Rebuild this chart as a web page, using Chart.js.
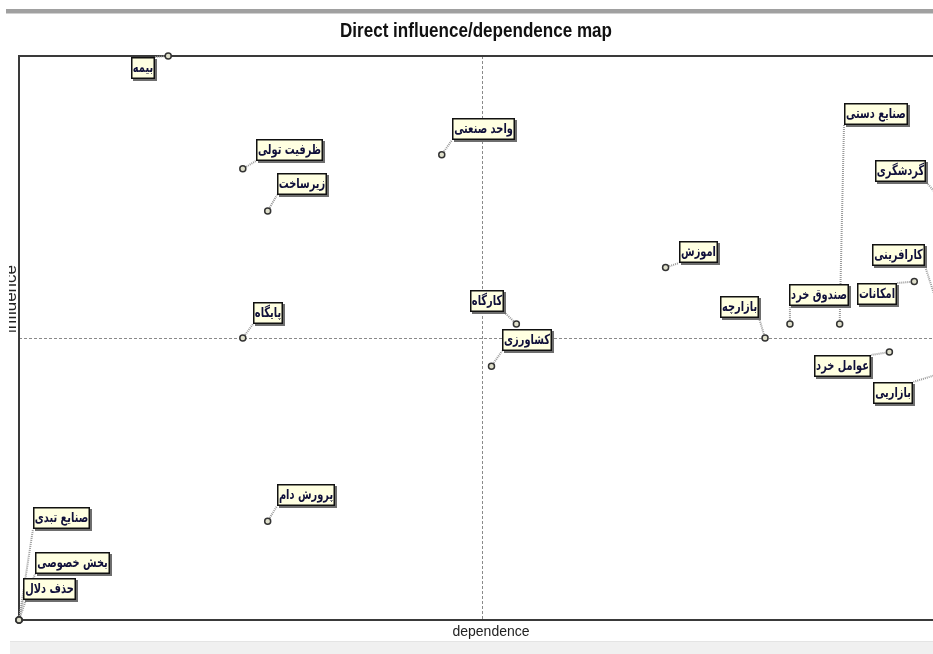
<!DOCTYPE html>
<html>
<head>
<meta charset="utf-8">
<title>Direct influence/dependence map</title>
<script src="https://cdn.jsdelivr.net/npm/chart.js@4.4.0/dist/chart.umd.min.js"></script>
<style>
  html, body { margin: 0; padding: 0; background: #fff; overflow: hidden; }
  canvas { display: block; }
</style>
</head>
<body>
<canvas id="mapChart" width="1000" height="654"></canvas>
<script>
const variables = [
    'بیمه', 'ظرفیت تولی', 'زیرساخت', 'واحد صنعتی', 'کارگاه',
    'کشاورزی', 'اموزش', 'بازارچه', 'صندوق خرد', 'صنایع دستی',
    'امکانات', 'کارافرینی', 'گردشگری', 'عوامل خرد', 'بازاریی',
    'پایگاه', 'پرورش دام', 'صنایع تبدی', 'بخش خصوصی', 'حذف دلال'
];
const dependence = [6, 9, 10, 17, 20, 19, 26, 30, 31, 33, 36, 37, 37, 35, 38, 9, 10, 0, 0, 0];
const influence = [40, 32, 29, 33, 21, 18, 25, 20, 21, 21, 24, 22, 30, 19, 18, 20, 7, 0, 0, 0];
const meanDependence = 18.6;
const meanInfluence = 20;
const dependenceMax = 38;
const influenceMax = 40;

// where each label box sits relative to its point (px, top-left corner)
const labelOffsets = [
    [-37, 1], [13, -30], [9, -38], [10, -37], [-46, -34],
    [10, -37], [13, -27], [-45, -42], [-1, -40], [4, -221],
    [-57, 1], [-67, -66], [-64, -37], [-75, 3], [-91, 16],
    [10, -36], [9, -37], [14, -113], [16, -68], [4, -42]
];

const labelFont = "bold 12px 'DejaVu Sans', sans-serif";
const labelSquash = 0.82; // the original labels use a narrow face

function labelBox(ctx, i, p) {
    ctx.font = labelFont;
    const w = Math.round(ctx.measureText(variables[i]).width * labelSquash) + 4;
    const [dx, dy] = labelOffsets[i];
    return { x: Math.round(p.x + dx), y: Math.round(p.y + dy), w: w, h: 22 };
}

const mapDecor = {
    id: 'mapDecor',
    beforeDraw(chart) {
        const { ctx, chartArea: a, scales: { x, y } } = chart;
        ctx.save();
        // top rule
        ctx.fillStyle = '#a0a0a0';
        ctx.fillRect(6, 9, chart.width, 4);
        ctx.fillStyle = '#d0d0d0';
        ctx.fillRect(6, 13, chart.width, 1);

        // title, squeezed to the narrow width of the original
        const title = 'Direct influence/dependence map';
        ctx.fillStyle = '#111';
        ctx.font = "bold 20px 'Liberation Sans', sans-serif";
        ctx.textAlign = 'center';
        ctx.textBaseline = 'middle';
        const tw = ctx.measureText(title).width;
        ctx.save();
        ctx.translate(476, 31);
        ctx.scale(272 / tw, 1.05);
        ctx.fillText(title, 0, 0);
        ctx.restore();

        // bottom band
        ctx.fillStyle = '#f0f0f0';
        ctx.fillRect(10, 641, chart.width, 13);
        ctx.fillStyle = '#e4e4e4';
        ctx.fillRect(10, 641, chart.width, 1);

        // axis titles
        ctx.fillStyle = '#222';
        ctx.font = "14px 'Liberation Sans', sans-serif";
        ctx.fillText('dependence', 491, 632);
        ctx.save();
        ctx.beginPath();
        ctx.rect(9, 0, 10, chart.height);
        ctx.clip();
        ctx.font = "17px 'Liberation Sans', sans-serif";
        ctx.translate(16, 299);
        ctx.rotate(-Math.PI / 2);
        ctx.textBaseline = 'alphabetic';
        ctx.fillText('influence', 0, 0);
        ctx.restore();

        // mean lines
        ctx.strokeStyle = '#8a8a8a';
        ctx.lineWidth = 1;
        ctx.setLineDash([3, 2]);
        const mx = Math.round(x.getPixelForValue(meanDependence)) + 0.5;
        const my = Math.round(y.getPixelForValue(meanInfluence)) + 0.5;
        ctx.beginPath();
        ctx.moveTo(mx, a.top); ctx.lineTo(mx, a.bottom);
        ctx.moveTo(a.left, my); ctx.lineTo(a.right, my);
        ctx.stroke();
        ctx.setLineDash([]);

        // frame
        ctx.strokeStyle = '#3a3a3a';
        ctx.lineWidth = 2;
        ctx.strokeRect(a.left, a.top, a.right - a.left, a.bottom - a.top);
        ctx.restore();
    },
    beforeDatasetsDraw(chart) {
        const ctx = chart.ctx;
        const meta = chart.getDatasetMeta(0);
        ctx.save();
        ctx.strokeStyle = '#9a9a9a';
        ctx.lineWidth = 2;
        ctx.setLineDash([1, 1]);
        variables.forEach((name, i) => {
            const p = meta.data[i];
            const b = labelBox(ctx, i, p);
            const lx = Math.min(Math.max(p.x, b.x), b.x + b.w);
            const ly = Math.min(Math.max(p.y, b.y), b.y + b.h);
            ctx.beginPath();
            ctx.moveTo(p.x, p.y);
            ctx.lineTo(lx, ly);
            ctx.stroke();
        });
        ctx.restore();
    },
    afterDatasetsDraw(chart) {
        const ctx = chart.ctx;
        const meta = chart.getDatasetMeta(0);
        ctx.save();
        variables.forEach((name, i) => {
            const b = labelBox(ctx, i, meta.data[i]);
            ctx.fillStyle = '#6e6e6e';
            ctx.fillRect(b.x + 2, b.y + 2, b.w, b.h);
            ctx.fillStyle = '#ffffe1';
            ctx.fillRect(b.x, b.y, b.w, b.h);
            ctx.strokeStyle = '#111';
            ctx.lineWidth = 1.5;
            ctx.strokeRect(b.x + 0.75, b.y + 0.75, b.w - 1.5, b.h - 1.5);
            ctx.fillStyle = '#10103a';
            ctx.font = labelFont;
            ctx.textAlign = 'center';
            ctx.textBaseline = 'middle';
            ctx.direction = 'rtl';
            ctx.save();
            ctx.translate(b.x + b.w / 2, b.y + b.h / 2);
            ctx.scale(labelSquash, 1.15);
            ctx.fillText(name, 0, 0);
            ctx.restore();
        });
        ctx.restore();
    }
};

const points = variables.map((name, i) => ({ x: dependence[i], y: influence[i] }));

new Chart(document.getElementById('mapChart'), {
    type: 'scatter',
    data: {
        datasets: [{
            data: points,
            pointRadius: 3,
            pointBorderWidth: 1.5,
            pointBorderColor: '#333',
            pointBackgroundColor: '#e0e0cc',
            clip: false
        }]
    },
    options: {
        responsive: false,
        animation: false,
        events: [],
        layout: { padding: { left: 19, top: 56, right: 36, bottom: 34 } },
        scales: {
            x: { type: 'linear', min: 0, max: dependenceMax, display: false },
            y: { type: 'linear', min: 0, max: influenceMax, display: false }
        },
        plugins: {
            legend: { display: false },
            tooltip: { enabled: false }
        }
    },
    plugins: [mapDecor]
});
</script>
</body>
</html>
